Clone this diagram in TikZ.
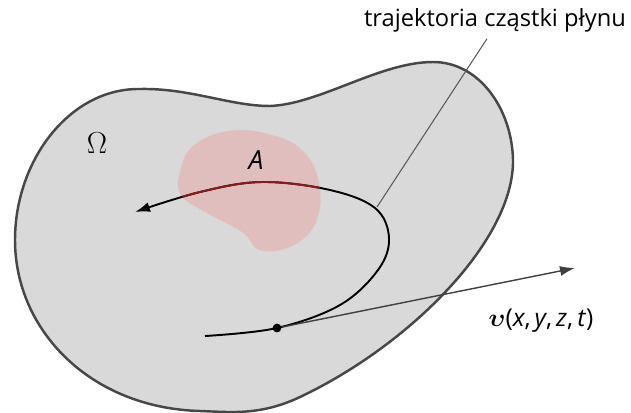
\documentclass[tikz,border=0pt]{standalone}
\usepackage{amsmath}
\usepackage{fontspec}
\setmainfont{Open Sans}
\usetikzlibrary{arrows.meta}
\definecolor{obszar}{RGB}{217,217,217}
\definecolor{plama}{RGB}{224,190,190}
\definecolor{ciemnoczerwony}{RGB}{135,28,28}

\begin{document}
\begin{tikzpicture}[x=0.02cm,y=-0.02cm,line width=1.1pt,>={Latex[length=3mm,width=2mm]}]
  \useasboundingbox (0,0) rectangle (631,412);
  % obszar Omega
  \draw[black!72,line width=1.4pt,fill=obszar] (15,240) .. controls (15,160) and (70,88) .. (140,89)
    .. controls (190,88) and (230,106) .. (270,106) .. controls (320,104) and (380,62) .. (433,62)
    .. controls (480,62) and (512,110) .. (513,160) .. controls (514,240) and (410,345) .. (300,397)
    .. controls (260,416) and (230,412) .. (200,411) .. controls (90,408) and (15,330) .. cycle;
  % obszar A
  \fill[plama] plot[smooth cycle,tension=0.7] coordinates {(180,172) (193,146) (228,131) (268,134) (302,150) (319,183) (316,222) (292,246) (260,250) (242,232) (205,212) (181,195)};
  % trajektoria czastki
  \draw[->] plot[smooth,tension=0.6] coordinates {(205,336) (277,328) (340,305) (378,270) (389,238) (375,208) (330,190) (262,182) (200,192) (135,212)};
  \begin{scope}
    \clip plot[smooth cycle,tension=0.7] coordinates {(180,172) (193,146) (228,131) (268,134) (302,150) (319,183) (316,222) (292,246) (260,250) (242,232) (205,212) (181,195)};
    \draw[ciemnoczerwony] plot[smooth,tension=0.6] coordinates {(205,336) (277,328) (340,305) (378,270) (389,238) (375,208) (330,190) (262,182) (200,192) (135,212)};
  \end{scope}
  % predkosc w punkcie
  \node[circle,fill,inner sep=0pt,minimum size=5pt] (punkt) at (277,328) {};
  \coordinate (koniec) at (575,268);
  \draw[->,black!75,line width=0.8pt] (punkt) -- (koniec);
  % opisy
  \node (omega) at (97,143) {\fontsize{17}{17}\selectfont$\Omega$};
  \node (etykietaA) at (256,160) {\fontsize{15}{15}\selectfont\itshape A};
  \node (tytul) at (495,20) {\fontsize{13.5}{15}\selectfont trajektoria cząstki płynu};
  \node (predkosc) at (541,321) {\fontsize{14}{16}\selectfont$\boldsymbol{\upsilon}$(\textit{x},\,\textit{y},\,\textit{z},\,\textit{t})};
  \coordinate (stopa) at (377,207);
  \draw[black!65,line width=0.6pt] (stopa) -- ([xshift=-0.16cm]tytul.south);
\end{tikzpicture}
\end{document}
